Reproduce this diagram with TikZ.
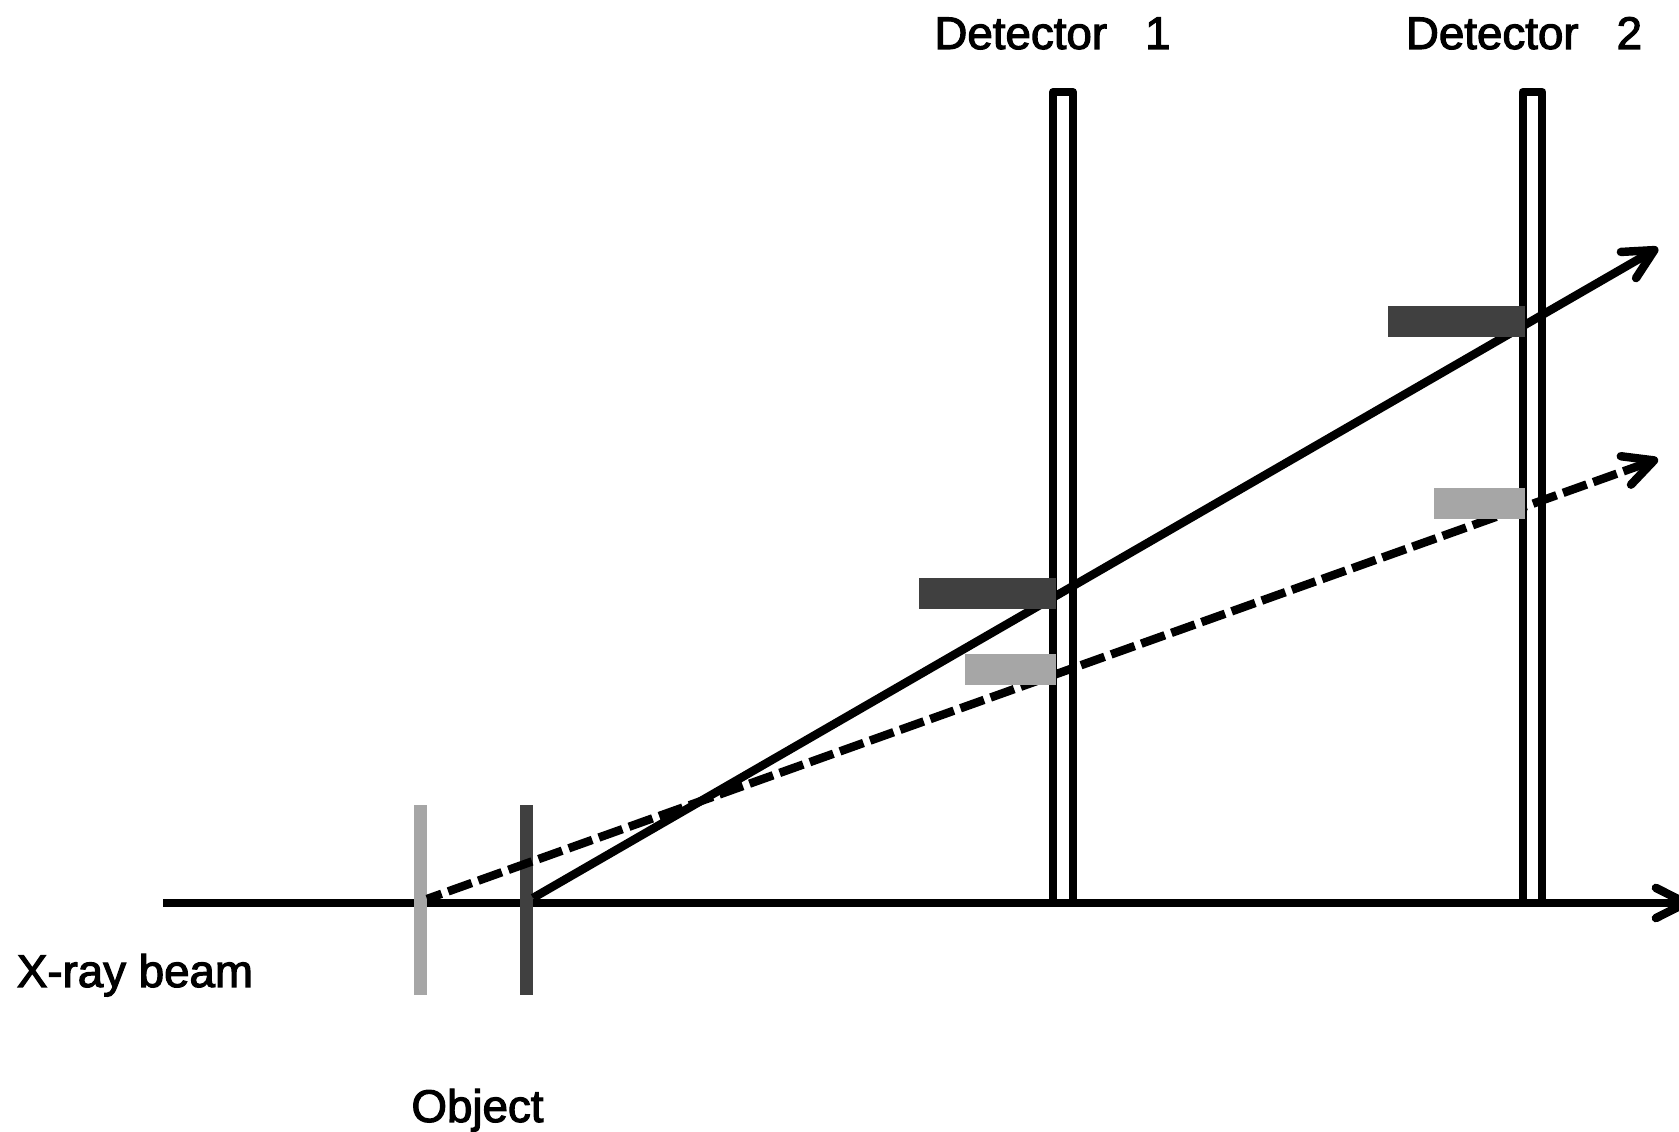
\documentclass[tikz,border=0pt]{standalone}
\usepackage{fontspec}
\setmainfont{Liberation Sans}
\usetikzlibrary{arrows.meta}
\definecolor{barDark}{HTML}{404040}
\definecolor{barLight}{HTML}{A6A6A6}
\tikzset{
    ray/.style={line width=2.4pt, -{Straight Barb[round, length=8.5pt, width=8.6pt]}},
    detector/.style={draw, line width=2.4pt, line join=round, inner sep=0pt, minimum width=0.195cm, minimum height=8.11cm},
    bar/.style={inner sep=0pt, minimum height=0.31cm},
    slab/.style={inner sep=0pt, minimum width=0.13cm, minimum height=1.9cm},
    caption/.style={anchor=base, font=\fontsize{13}{15}\selectfont\addfontfeature{FakeBold=2.5}}
}
\begin{document}
\begin{tikzpicture}
    \useasboundingbox (0,0) rectangle (16.79,11.32);

    % Detectors
    \node[detector] (det1) at (10.63,6.345) {};
    \node[detector] (det2) at (15.325,6.345) {};

    % X-ray beam
    \coordinate (beamStart) at (1.63,2.29);
    \coordinate (beamEnd) at (16.90,2.29);
    \draw[ray] (beamStart) -- (beamEnd);

    % Object slabs
    \node[slab, fill=barLight] (objLight) at (4.205,2.32) {};
    \node[slab, fill=barDark] (objDark) at (5.265,2.32) {};

    % Scattered rays
    \coordinate (rayStart) at (5.33,2.34);
    \coordinate (rayEnd) at (16.58,8.84);
    \draw[ray] (rayStart) -- (rayEnd);
    \coordinate (dashStart) at (4.27,2.33);
    \coordinate (dashEnd) at (16.58,6.73);
    \draw[ray, dash pattern=on 0.25cm off 0.07cm, dash phase=0.095cm] (dashStart) -- (dashEnd);

    % Images on the detectors
    \node[bar, fill=barDark, minimum width=1.37cm] (imgDark1) at (9.875,5.385) {};
    \node[bar, fill=barLight, minimum width=0.91cm] (imgLight1) at (10.105,4.625) {};
    \node[bar, fill=barDark, minimum width=1.37cm] (imgDark2) at (14.565,8.105) {};
    \node[bar, fill=barLight, minimum width=0.91cm] (imgLight2) at (14.795,6.285) {};

    % Labels
    \node[caption] (lblDet1) at (10.525,10.83) {Detector\ \ \ 1};
    \node[caption] (lblDet2) at (15.24,10.83) {Detector\ \ \ 2};
    \node[caption] (lblBeam) at (1.35,1.45) {X-ray beam};
    \node[caption] (lblObject) at (4.775,0.10) {Object};
\end{tikzpicture}
\end{document}
